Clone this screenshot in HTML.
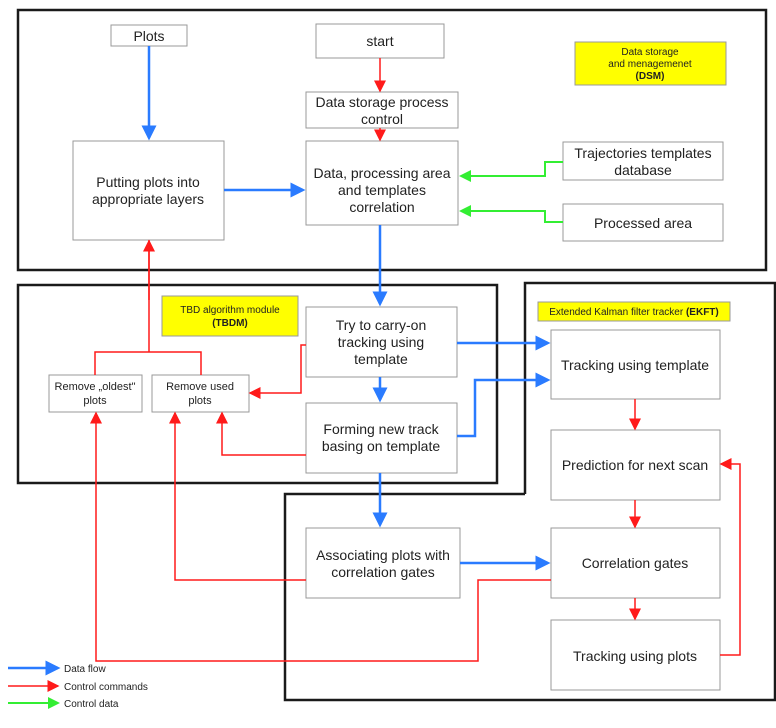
<!DOCTYPE html>
<html><head><meta charset="utf-8"><style>
body{margin:0;background:#fff}
text{font-family:"Liberation Sans",sans-serif;fill:#222}
.b{fill:#fff;stroke:#999;stroke-width:1}
.y{fill:#ffff00;stroke:#999}
.o{fill:none;stroke:#1a1a1a;stroke-width:2.5}
.bl{fill:none;stroke:#2a7bff;stroke-width:2.5}
.rd{fill:none;stroke:#ff1a1a;stroke-width:1.5}
.gr{fill:none;stroke:#33ee33;stroke-width:2}
</style></head><body>
<svg width="776" height="723" xmlns="http://www.w3.org/2000/svg">
<defs>
<marker id="ab" markerWidth="6" markerHeight="6" refX="5" refY="3" orient="auto" markerUnits="strokeWidth"><path d="M0,0L6,3L0,6z" fill="#2a7bff"/></marker>
<marker id="ar" markerWidth="8" markerHeight="8" refX="7" refY="4" orient="auto" markerUnits="strokeWidth"><path d="M0,0L8,4L0,8z" fill="#ff1a1a"/></marker>
<marker id="ag" markerWidth="6" markerHeight="6" refX="5" refY="3" orient="auto" markerUnits="strokeWidth"><path d="M0,0L6,3L0,6z" fill="#33ee33"/></marker>
</defs>
<rect class="o" x="18" y="10" width="748" height="260"/>
<rect class="o" x="18" y="285" width="479" height="198"/>
<path class="o" d="M525,494V283H775V700H285V494H525"/>

<rect class="y" x="575" y="42" width="151" height="43"/>
<text font-size="10" text-anchor="middle" x="650" y="55">Data storage</text>
<text font-size="10" text-anchor="middle" x="650" y="67">and menagemenet</text>
<text font-size="10" text-anchor="middle" x="650" y="79" font-weight="bold">(DSM)</text>
<rect class="y" x="162" y="296" width="136" height="40"/>
<text font-size="10" text-anchor="middle" x="230" y="313">TBD algorithm module</text>
<text font-size="10" text-anchor="middle" x="230" y="326" font-weight="bold">(TBDM)</text>
<rect class="y" x="538" y="302" width="192" height="19"/>
<text font-size="10" text-anchor="middle" x="634" y="315">Extended Kalman filter tracker <tspan font-weight="bold">(EKFT)</tspan></text>

<g font-size="14" text-anchor="middle">
<rect class="b" x="111" y="25" width="76" height="21"/><text x="149" y="41">Plots</text>
<rect class="b" x="316" y="24" width="128" height="34"/><text x="380" y="46">start</text>
<rect class="b" x="306" y="92" width="152" height="36"/><text x="382" y="107">Data storage process</text><text x="382" y="124">control</text>
<rect class="b" x="73" y="141" width="151" height="99"/><text x="148" y="187">Putting plots into</text><text x="148" y="204">appropriate layers</text>
<rect class="b" x="306" y="141" width="152" height="84"/><text x="382" y="178">Data, processing area</text><text x="382" y="195">and templates</text><text x="382" y="212">correlation</text>
<rect class="b" x="563" y="142" width="160" height="38"/><text x="643" y="158">Trajectories templates</text><text x="643" y="175">database</text>
<rect class="b" x="563" y="204" width="160" height="37"/><text x="643" y="228">Processed area</text>
<rect class="b" x="306" y="307" width="151" height="70"/><text x="381" y="330">Try to carry-on</text><text x="381" y="347">tracking using</text><text x="381" y="364">template</text>
<rect class="b" x="306" y="403" width="151" height="70"/><text x="381" y="434">Forming new track</text><text x="381" y="451">basing on template</text>
<rect class="b" x="306" y="528" width="154" height="70"/><text x="383" y="560">Associating plots with</text><text x="383" y="577">correlation gates</text>
<rect class="b" x="551" y="330" width="169" height="69"/><text x="635" y="370">Tracking using template</text>
<rect class="b" x="551" y="430" width="169" height="70"/><text x="635" y="470">Prediction for next scan</text>
<rect class="b" x="551" y="528" width="169" height="70"/><text x="635" y="568">Correlation gates</text>
<rect class="b" x="551" y="620" width="169" height="70"/><text x="635" y="661">Tracking using plots</text>
</g>
<g font-size="11" text-anchor="middle">
<rect class="b" x="49" y="375" width="93" height="37"/><text x="95" y="390">Remove „oldest"</text><text x="95" y="404">plots</text>
<rect class="b" x="152" y="375" width="97" height="37"/><text x="200" y="390">Remove used</text><text x="200" y="404">plots</text>
</g>

<path class="bl" marker-end="url(#ab)" d="M149,46V138"/>
<path class="bl" marker-end="url(#ab)" d="M224,190H303"/>
<path class="bl" marker-end="url(#ab)" d="M380,225V304"/>
<path class="bl" marker-end="url(#ab)" d="M380,377V400"/>
<path class="bl" marker-end="url(#ab)" d="M380,473V525"/>
<path class="bl" marker-end="url(#ab)" d="M457,343H548"/>
<path class="bl" marker-end="url(#ab)" d="M457,436H475V380H548"/>
<path class="bl" marker-end="url(#ab)" d="M460,563H548"/>

<path class="rd" marker-end="url(#ar)" d="M380,58V91"/>
<path class="rd" marker-end="url(#ar)" d="M380,128V140"/>
<path class="rd" marker-end="url(#ar)" d="M306,345H301V393H250"/>
<path class="rd" marker-end="url(#ar)" d="M306,455H222V413"/>
<path class="rd" d="M95,375V352H201V375M149,352V240"/>
<path class="rd" marker-end="url(#ar)" d="M149,300V241"/>
<path class="rd" marker-end="url(#ar)" d="M306,580H175V413"/>
<path class="rd" marker-end="url(#ar)" d="M551,580H478V661H96V413"/>
<path class="rd" marker-end="url(#ar)" d="M720,655H740V464H721"/>
<path class="rd" marker-end="url(#ar)" d="M635,399V429"/>
<path class="rd" marker-end="url(#ar)" d="M635,500V527"/>
<path class="rd" marker-end="url(#ar)" d="M635,598V619"/>

<path class="gr" marker-end="url(#ag)" d="M563,162H545V176H461"/>
<path class="gr" marker-end="url(#ag)" d="M563,222H545V211H461"/>

<path class="bl" marker-end="url(#ab)" d="M8,668H58"/>
<path class="rd" marker-end="url(#ar)" d="M8,686H58"/>
<path class="gr" marker-end="url(#ag)" d="M8,703H58"/>
<g font-size="10"><text x="64" y="672">Data flow</text><text x="64" y="690">Control commands</text><text x="64" y="707">Control data</text></g>
</svg>
</body></html>
